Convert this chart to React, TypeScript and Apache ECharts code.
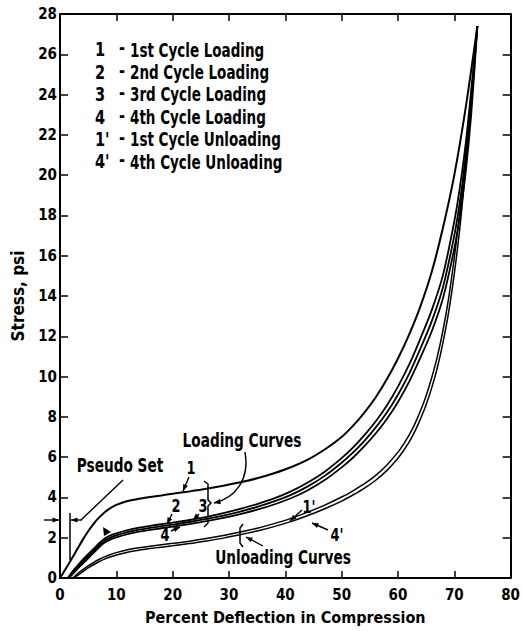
import React, { useEffect, useRef } from "react";
import * as echarts from "echarts";

// ---------- data ----------
const curve1X = [0, 1, 2, 3, 4, 5, 6, 7, 8, 9, 10, 12, 14, 16, 18, 20, 23, 26, 29, 32, 35, 38, 41, 44, 47, 50, 52, 54, 56, 58, 60, 62, 64, 66, 68, 70, 72, 74.1];
const curve1Y = [0, 0.45, 0.92, 1.4, 1.88, 2.32, 2.7, 3.02, 3.28, 3.48, 3.63, 3.82, 3.93, 4.02, 4.1, 4.18, 4.3, 4.43, 4.58, 4.75, 4.95, 5.2, 5.5, 5.88, 6.38, 7.0, 7.55, 8.2, 8.95, 9.85, 10.9, 12.1, 13.5, 15.2, 17.4, 20.0, 23.3, 27.4];

const loadX = [1.4, 2, 3, 4, 5, 6, 7, 8, 9, 10, 12, 14, 16, 18, 20, 23, 26, 29, 32, 35, 38, 41, 44, 47, 50, 52, 54, 56, 58, 60, 62, 64, 66, 68, 70, 71, 72, 73, 74.1];
const curve2Y = [0, 0.25, 0.58, 0.9, 1.18, 1.46, 1.74, 1.97, 2.12, 2.22, 2.38, 2.5, 2.59, 2.67, 2.75, 2.88, 3.04, 3.22, 3.43, 3.67, 3.95, 4.3, 4.74, 5.28, 5.95, 6.47, 7.08, 7.76, 8.55, 9.5, 10.6, 11.9, 13.3, 15.05, 17.7, 19.4, 21.5, 24.2, 27.4];
const curve3Y = [0, 0.18, 0.5, 0.8, 1.08, 1.36, 1.64, 1.87, 2.02, 2.12, 2.28, 2.4, 2.49, 2.57, 2.65, 2.78, 2.93, 3.1, 3.3, 3.53, 3.8, 4.13, 4.55, 5.07, 5.72, 6.22, 6.8, 7.45, 8.2, 9.1, 10.15, 11.4, 12.75, 14.45, 17.0, 18.7, 20.8, 23.6, 27.4];
const curve4Y = [0, 0.12, 0.42, 0.7, 0.98, 1.26, 1.54, 1.77, 1.92, 2.02, 2.18, 2.3, 2.39, 2.47, 2.55, 2.68, 2.82, 2.98, 3.17, 3.39, 3.65, 3.96, 4.36, 4.86, 5.49, 5.97, 6.53, 7.16, 7.88, 8.74, 9.75, 10.95, 12.25, 13.9, 16.35, 18.0, 20.1, 23.0, 27.4];

const unloadX = [2.3, 3, 4, 5, 6, 7, 8, 9, 10, 12, 14, 16, 18, 20, 23, 26, 29, 32, 35, 38, 41, 44, 47, 50, 52, 54, 56, 58, 60, 61, 62, 63, 64, 65, 66, 67, 68, 69, 70, 71, 72, 73, 74.1];
const unload1Y = [0, 0.18, 0.4, 0.6, 0.78, 0.93, 1.06, 1.17, 1.26, 1.4, 1.5, 1.58, 1.65, 1.72, 1.83, 1.96, 2.11, 2.28, 2.47, 2.7, 2.96, 3.27, 3.62, 4.02, 4.33, 4.67, 5.08, 5.6, 6.25, 6.65, 7.1, 7.65, 8.3, 9.05, 9.95, 11.0, 12.3, 13.9, 15.9, 18.2, 21.0, 24.0, 27.4];
const unload4Y = [0, 0.1, 0.3, 0.5, 0.67, 0.82, 0.95, 1.05, 1.14, 1.28, 1.38, 1.46, 1.53, 1.6, 1.71, 1.84, 1.98, 2.15, 2.33, 2.55, 2.8, 3.1, 3.44, 3.82, 4.12, 4.45, 4.84, 5.33, 5.95, 6.33, 6.76, 7.28, 7.9, 8.6, 9.45, 10.45, 11.7, 13.2, 15.1, 17.4, 20.3, 23.5, 27.4];

const legendNums = ["1", "2", "3", "4", "1'", "4'"];
const legendTexts = [
  "1st Cycle Loading",
  "2nd Cycle Loading",
  "3rd Cycle Loading",
  "4th Cycle Loading",
  "1st Cycle Unloading",
  "4th Cycle Unloading",
];

const X_MIN = 0, X_MAX = 80, X_INT = 10;
const Y_MIN = 0, Y_MAX = 28, Y_INT = 2;

const FF = "'DejaVu Sans Condensed', 'Liberation Sans', sans-serif";

function pairs(xs: number[], ys: number[]) {
  return xs.map((x, i) => [x, ys[i]]);
}

function lineSeries(name: string, data: number[][], width: number) {
  return {
    name,
    type: "line",
    data,
    smooth: 0.3,
    symbol: "none",
    lineStyle: { color: "#000", width },
    xAxisIndex: 0,
    yAxisIndex: 0,
  };
}

function text(x: number, y: number, t: string, size: number, align = "left", sx = 0.8) {
  return {
    type: "text",
    x,
    y,
    scaleX: sx,
    style: {
      text: t,
      fill: "#000",
      font: `bold ${size}px ${FF}`,
      textAlign: align,
      align,
      textVerticalAlign: "middle",
      verticalAlign: "middle",
    },
  };
}

function seg(pts: number[][], w = 1.4) {
  return { type: "polyline", shape: { points: pts }, style: { stroke: "#000", lineWidth: w, fill: null } };
}

function head(x1: number, y1: number, x2: number, y2: number, size = 7) {
  const a = Math.atan2(y2 - y1, x2 - x1);
  const p1 = [x2 - size * Math.cos(a - 0.38), y2 - size * Math.sin(a - 0.38)];
  const p2 = [x2 - size * Math.cos(a + 0.38), y2 - size * Math.sin(a + 0.38)];
  return { type: "polygon", shape: { points: [[x2, y2], p1, p2] }, style: { fill: "#000" } };
}

function arrow(x1: number, y1: number, x2: number, y2: number) {
  return [seg([[x1, y1], [x2, y2]]), head(x1, y1, x2, y2)];
}

export default function App() {
  const ref = useRef<HTMLDivElement>(null);

  useEffect(() => {
    document.body.style.margin = "0";
    if (!ref.current) return;
    const chart = echarts.init(ref.current, undefined, { renderer: "svg" });

    const axisCommon = {
      type: "value",
      axisLine: { show: true, onZero: false, lineStyle: { color: "#000", width: 2 } },
      splitLine: { show: false },
      axisTick: { show: true, inside: true, length: 7, lineStyle: { color: "#000", width: 1.5 } },
    };
    const labelStyle = { color: "#000", fontFamily: FF, fontWeight: "bold", fontSize: 15 };

    const graphics: any[] = [];
    // legend block
    legendNums.forEach((n, i) => {
      const y = 50 + i * 22.4;
      graphics.push(text(95, y, n, 19, "left", 0.85));
      graphics.push(text(119, y - 2, "-", 19, "left", 0.85));
      graphics.push(text(130, y, legendTexts[i], 19, "left", 0.79));
    });
    // annotations
    graphics.push(text(242, 440, "Loading Curves", 19, "center"));
    graphics.push(text(120, 465, "Pseudo Set", 19, "center"));
    graphics.push(text(283, 557, "Unloading Curves", 19, "center"));
    graphics.push(text(191, 468, "1", 18, "center"));
    graphics.push(text(176, 506, "2", 18, "center"));
    graphics.push(text(203, 506, "3", 18, "center"));
    graphics.push(text(165, 535, "4", 18, "center"));
    graphics.push(text(309, 507, "1'", 18, "center"));
    graphics.push(text(337, 535, "4'", 18, "center"));

    graphics.push(...arrow(189, 477, 183, 491));
    graphics.push(...arrow(172, 514, 167, 524));
    graphics.push(...arrow(199, 514, 193, 520));
    graphics.push(...arrow(171, 531, 180, 527));
    graphics.push(...arrow(302, 510, 290, 521));
    graphics.push(...arrow(328, 530, 312, 523));
    graphics.push(...arrow(263, 546, 246, 537));

    // loading-curves bracket
    graphics.push(seg([[204, 481], [208, 484], [208, 500], [211, 503], [208, 506], [208, 523], [204, 527]], 1.5));
    // loading curves curved arrow
    graphics.push({
      type: "bezierCurve",
      shape: { x1: 245, y1: 452, x2: 214, y2: 503, cpx1: 250, cpy1: 480, cpx2: 235, cpy2: 498 },
      style: { stroke: "#000", lineWidth: 1.4, fill: null },
    });
    graphics.push(head(228, 500, 214, 503));
    // unloading bracket
    graphics.push(seg([[243, 524], [240, 528], [240, 543], [243, 547]], 1.5));

    // pseudo set marker
    graphics.push(seg([[70, 513], [70, 560]], 1.5));
    graphics.push(seg([[123, 480], [81, 520]], 1.4));
    graphics.push(...arrow(82, 520, 71, 520));
    graphics.push(...arrow(44, 520, 59, 520));
    // direction mark on loading band
    graphics.push({ type: "polygon", shape: { points: [[103, 527], [111, 532], [104, 536]] }, style: { fill: "#000" } });

    chart.setOption({
      animation: false,
      backgroundColor: "#fff",
      grid: { left: 60, right: 8, top: 14, bottom: 53 },
      xAxis: [
        {
          ...axisCommon,
          position: "bottom",
          min: X_MIN,
          max: X_MAX,
          interval: X_INT,
          axisLabel: { ...labelStyle, margin: 9 },
          name: "Percent Deflection in Compression",
          nameLocation: "middle",
          nameGap: 31,
          nameTextStyle: { color: "#000", fontFamily: FF, fontWeight: "bold", fontSize: 16 },
        },
        {
          ...axisCommon,
          position: "top",
          min: X_MIN,
          max: X_MAX,
          interval: X_INT,
          axisLabel: { show: false },
        },
      ],
      yAxis: [
        {
          ...axisCommon,
          position: "left",
          min: Y_MIN,
          max: Y_MAX,
          interval: Y_INT,
          axisTick: { show: true, inside: true, length: 8, lineStyle: { color: "#000", width: 1.5 } },
          axisLabel: { ...labelStyle, margin: 3 },
          name: "Stress, psi",
          nameLocation: "middle",
          nameRotate: 90,
          nameGap: 34,
          nameTextStyle: { color: "#000", fontFamily: FF, fontWeight: "bold", fontSize: 17 },
        },
        {
          ...axisCommon,
          position: "right",
          min: Y_MIN,
          max: Y_MAX,
          interval: Y_INT,
          axisTick: { show: true, inside: true, length: 8, lineStyle: { color: "#000", width: 1.5 } },
          axisLabel: { show: false },
        },
      ],
      series: [
        lineSeries("1", pairs(curve1X, curve1Y), 2),
        lineSeries("2", pairs(loadX, curve2Y), 1.8),
        lineSeries("3", pairs(loadX, curve3Y), 1.8),
        lineSeries("4", pairs(loadX, curve4Y), 1.8),
        lineSeries("1'", pairs(unloadX, unload1Y), 1.5),
        lineSeries("4'", pairs(unloadX, unload4Y), 1.5),
      ],
      graphic: graphics,
    });

    return () => chart.dispose();
  }, []);

  return <div ref={ref} style={{ width: 523, height: 631 }} />;
}
